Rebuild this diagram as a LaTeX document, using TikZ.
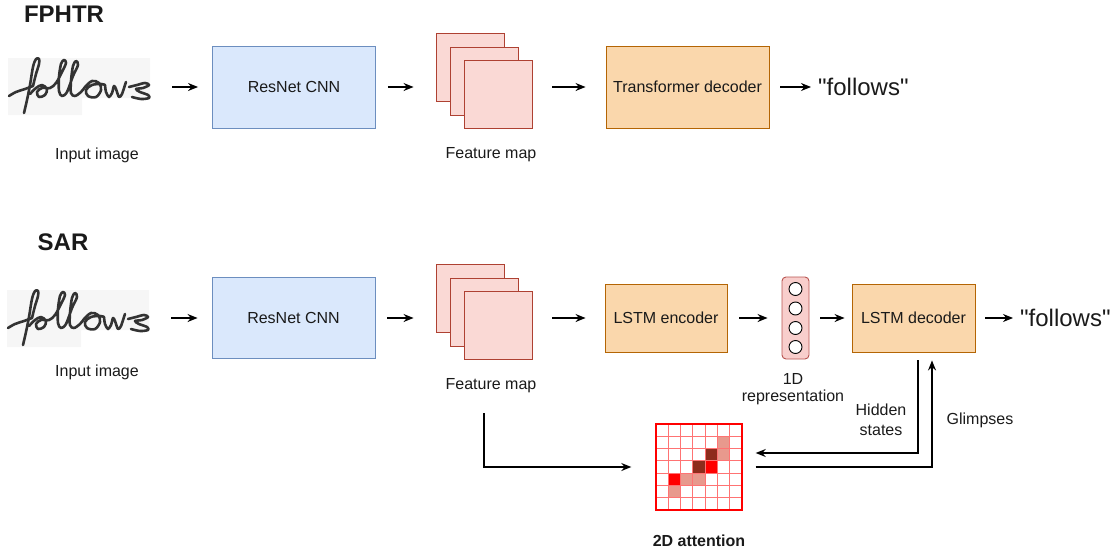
\documentclass[tikz,border=0pt]{standalone}
\usepackage{fontspec}
\setmainfont{Liberation Sans}
\newfontfamily\outfont{Liberation Sans}[Ligatures=ResetAll]
\usetikzlibrary{arrows.meta,calc}

\definecolor{blueFill}{HTML}{DAE8FC}
\definecolor{blueLine}{HTML}{6C8EBF}
\definecolor{orFill}{HTML}{FAD7AC}
\definecolor{orLine}{HTML}{B46504}
\definecolor{fmFill}{HTML}{FAD9D5}
\definecolor{fmLine}{HTML}{AE4132}
\definecolor{repFill}{HTML}{F8CECC}
\definecolor{repLine}{HTML}{B85450}
\definecolor{ink}{HTML}{333333}
\definecolor{paper}{HTML}{F6F6F6}
\definecolor{attLight}{HTML}{E8998D}
\definecolor{attDark}{HTML}{8E2C1C}
\definecolor{txt}{HTML}{1A1A1A}

\tikzset{
  base/.style={font=\fontsize{16}{19}\selectfont, text=txt},
  block/.style={base, draw, line width=0.9pt, inner sep=0pt},
  resnet/.style={block, fill=blueFill, draw=blueLine, minimum width=163pt, minimum height=82pt},
  orbox/.style={block, fill=orFill, draw=orLine},
  fmsq/.style={draw=fmLine, fill=fmFill, line width=0.9pt, minimum size=68pt, inner sep=0pt},
  lbl/.style={base, inner sep=0pt, align=center},
  title/.style={font=\fontsize{24}{28}\selectfont\bfseries, text=txt, inner sep=0pt},
  outtxt/.style={font=\outfont\fontsize{24}{28}\selectfont, text=txt, inner sep=0pt, anchor=west},
  arr/.style={-{Stealth[length=10pt,width=8pt]}, line width=1.3pt, black},
  pen/.style={draw=ink, line width=2.6pt, line cap=round, line join=round},
  hand/.pic={
    \fill[paper] (0,3) -- (142,3) -- (142,43) -- (74,43) -- (74,60) -- (0,60) -- cycle;
    % f: lead-in stroke
    \draw[pen] plot[smooth, tension=0.6] coordinates {(1,41) (8,37) (17,34) (25,31)};
    % f: looped stem
    \draw[pen] plot[smooth, tension=0.6] coordinates {(25,31) (28,19) (31,9) (31,4) (28,4) (25,12) (22,30) (19,45) (16,58)};
    % o, l, l
    \draw[pen] plot[smooth, tension=0.55] coordinates {(22,39) (28,33) (34,30) (39,34) (37,40) (31,42) (29,37) (34,33) (42,33) (48,28) (54,17) (58,8) (56,5) (53,9) (51,22) (51,36) (54,41) (59,37) (65,21) (70,10) (68,6) (65,11) (63,26) (63,38) (67,41) (73,37) (77,32)};
    % o
    \draw[pen] plot[smooth, tension=0.6] coordinates {(77,32) (84,26) (91,28) (93,35) (88,42) (80,41) (78,35) (84,30) (93,29) (97,30)};
    % w
    \draw[pen] plot[smooth, tension=0.5] coordinates {(97,30) (98,37) (101,42) (104,38) (106,31) (108,34) (111,42) (114,39) (117,30) (118,27)};
    % s
    \draw[pen] plot[smooth, tension=0.55] coordinates {(121,32) (129,30) (137,28) (141,30) (135,33) (128,34) (132,37) (140,40) (141,43) (133,44) (124,42)};
  }
}

\begin{document}
\begin{tikzpicture}[x=1pt,y=-1pt]
\useasboundingbox (0,0) rectangle (1119,554);

% ---------------- FPHTR ----------------
\node[title] (t1) at (64,14) {FPHTR};

\pic at (8,55) {hand};
\node[inner sep=0pt, minimum width=142pt, minimum height=57pt] (img1) at (79,87) {};
\node[lbl] (in1) at (97,155) {Input image};

\node[resnet] (res1) at (294,87) {ResNet CNN};

\node[fmsq] (fm1a) at (470,67) {};
\node[fmsq] (fm1b) at (484,81) {};
\node[fmsq] (fm1c) at (498,94) {};
\node[lbl] (fml1) at (491,155) {Feature map};

\node[orbox, minimum width=163pt, minimum height=82pt] (tr) at (687.5,87) {Transformer decoder};
\node[outtxt] (out1) at (818,87) {"follows"};

\draw[arr, shorten <=22pt, shorten >=14pt] (img1.east) -- (res1.west);
\draw[arr, shorten <=12pt, shorten >=22pt] (res1.east) -- (res1.east -| fm1a.west);
\draw[arr, shorten <=20pt, shorten >=20pt] (fm1c.east |- tr.west) -- (tr.west);
\draw[arr, shorten <=11pt, shorten >=7pt] (tr.east) -- (out1.west);

% ---------------- SAR ----------------
\node[title] (t2) at (63,242) {SAR};

\pic at (7,287) {hand};
\node[inner sep=0pt, minimum width=142pt, minimum height=57pt] (img2) at (78,318) {};
\node[lbl] (in2) at (97,372) {Input image};

\node[resnet, minimum height=81pt] (res2) at (293.5,318) {ResNet CNN};

\node[fmsq] (fm2a) at (470,298) {};
\node[fmsq] (fm2b) at (484,312) {};
\node[fmsq] (fm2c) at (498,325) {};
\node[lbl] (fml2) at (491,386) {Feature map};

\node[orbox, minimum width=122pt, minimum height=68pt] (enc) at (666,318) {LSTM encoder};

\node[draw=repLine, fill=repFill, line width=0.9pt, rounded corners=4pt,
      minimum width=27pt, minimum height=82pt, inner sep=0pt] (rep) at (795.5,318) {};
\foreach \cy [count=\i] in {289,308.5,328,347}
  \node[circle, draw=black, fill=white, line width=0.9pt, minimum size=13pt, inner sep=0pt] (c\i) at (795.5,\cy) {};
\node[lbl] (repl) at (793,389) {1D\\[-2pt]representation};

\node[orbox, minimum width=123pt, minimum height=68pt] (dec) at (913.5,318) {LSTM decoder};
\node[outtxt] (out2) at (1020,318) {"follows"};

\draw[arr, shorten <=22pt, shorten >=14pt] (img2.east) -- (res2.west);
\draw[arr, shorten <=12pt, shorten >=22pt] (res2.east) -- (res2.east -| fm2a.west);
\draw[arr, shorten <=20pt, shorten >=19pt] (fm2c.east |- enc.west) -- (enc.west);
\draw[arr, shorten <=12pt, shorten >=14pt] (enc.east) -- (rep.west);
\draw[arr, shorten <=11pt, shorten >=7pt] (rep.east) -- (dec.west);
\draw[arr, shorten <=10pt, shorten >=7pt] (dec.east) -- (out2.west);

% 2D attention map
\def\cs{12.2857}
\begin{scope}[shift={(656,424)}]
  \foreach \r/\c/\col in {1/5/attLight, 2/4/attDark, 2/5/attLight, 3/3/attDark, 3/4/red,
                          4/1/red, 4/2/attLight, 4/3/attLight, 5/1/attLight}
    \fill[\col] (\c*\cs,\r*\cs) rectangle ++(\cs,\cs);
  \foreach \k in {1,...,6} {
    \draw[red!55, line width=0.9pt] (\k*\cs,0) -- (\k*\cs,86);
    \draw[red!55, line width=0.9pt] (0,\k*\cs) -- (86,\k*\cs);
  }
\end{scope}
\node[draw=red, line width=1.4pt, minimum width=86pt, minimum height=86pt, inner sep=0pt] (att) at (699,467) {};
\node[font=\fontsize{16}{19}\selectfont\bfseries, text=txt, inner sep=0pt] (attl) at (699,541) {2D attention};

% feature map to attention
\coordinate (fmtap) at (484,413);
\draw[arr, shorten >=24pt] (fmtap) |- (att.west);

% hidden states and glimpses
\draw[arr, shorten >=13pt] ([xshift=4.5pt, yshift=-8pt]dec.south) |- ([yshift=14pt]att.east);
\draw[arr, shorten <=13pt] (att.east) -| ([xshift=18.5pt, yshift=-8pt]dec.south);
\node[lbl] (hsl) at (881,420) {Hidden\\[1pt]states};
\node[lbl] (gll) at (980,420) {Glimpses};
\end{tikzpicture}
\end{document}
